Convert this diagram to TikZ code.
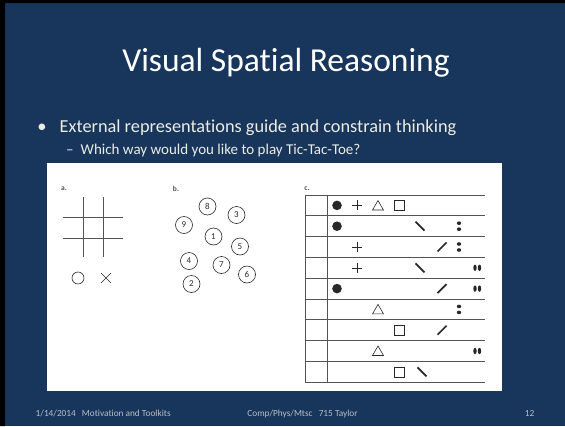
\documentclass[tikz,border=0pt]{standalone}
\usepackage{fontspec}
\setmainfont{Carlito}[Ligatures=NoCommon]
\definecolor{slidebg}{RGB}{24,54,92}
\definecolor{slidetext}{RGB}{236,236,226}
\definecolor{foottext}{RGB}{186,190,198}
\definecolor{scanink}{RGB}{40,40,40}
\begin{document}
\begin{tikzpicture}[x=1pt,y=-1pt,
		grid/.style={draw=scanink!80,line width=.7pt},
		mark ink/.style={draw=scanink,line width=.6pt},
		bar/.style={draw=scanink,line width=1.7pt},
		tag/.style={font=\fontsize{7.5}{8}\selectfont\bfseries,text=scanink!80,inner sep=0pt},
		num/.style={circle,draw=scanink,line width=.6pt,minimum size=17pt,inner sep=0pt,font=\fontsize{9}{10}\selectfont,text=scanink}]
			\useasboundingbox (0,0) rectangle (565,426);
			\fill[slidebg] (0,0) rectangle (565,426);
			\fill[black] (0,0) rectangle (565,3) (0,0) rectangle (5,426);
			% slide texts
			\node[anchor=base,text=white,font=\fontsize{33.5}{40}\selectfont,inner sep=0pt] (title) at (286,71) {Visual Spatial Reasoning};
			\node[anchor=base west,text=slidetext,font=\fontsize{18.3}{22}\selectfont,inner sep=0pt] (point) at (59.5,132) {External representations guide and constrain thinking};
			\node[anchor=base,text=slidetext,font=\fontsize{18.5}{22}\selectfont,inner sep=0pt] (dot) at (42,132) {•};
			\node[anchor=base west,text=slidetext,font=\fontsize{15}{18}\selectfont,inner sep=0pt] (subpoint) at (66,154) {–\hspace{7pt}Which way would you like to play Tic-Tac-Toe?};
			\node[anchor=base west,text=foottext,font=\fontsize{9.3}{11}\selectfont,inner sep=0pt] (date) at (35.5,416) {1/14/2014\hspace{4pt} Motivation and Toolkits};
			\node[anchor=base,text=foottext,font=\fontsize{9.3}{11}\selectfont,inner sep=0pt] (course) at (302.5,416) {Comp/Phys/Mtsc\hspace{4pt} 715 Taylor};
			\node[anchor=base,text=foottext,font=\fontsize{9.3}{11}\selectfont,inner sep=0pt] (page) at (529.5,416) {12};
			% the scanned figure
			\fill[white] (47,163) rectangle (502,391);
			\node[tag] (taga) at (64,189) {a.};
			\node[tag] (tagb) at (176,189) {b.};
			\node[tag] (tagc) at (307,189) {c.};
			% a: the board
			\draw[grid] (83,197)--(83,257) (103,197)--(103,257) (63,217)--(123,217) (63,238)--(123,238);
			\draw[mark ink] (78,278)circle(6) (101,273)--(111,283) (101,283)--(111,273);
			% b: the numbers
			\node[num] (n8) at (207.5,206.5) {8};
			\node[num] (n3) at (236.5,215) {3};
			\node[num] (n9) at (184,225) {9};
			\node[num] (n1) at (213.5,236.5) {1};
			\node[num] (n5) at (240,246.5) {5};
			\node[num] (n4) at (189,261) {4};
			\node[num] (n7) at (221.5,265) {7};
			\node[num] (n6) at (247,274.5) {6};
			\node[num] (n2) at (191.5,284) {2};
			% c: the table
			\draw[grid] (305,195)--(305,382.2) (327,195)--(327,382.2)
				(305,195)--(485,195) (305,215.8)--(485,215.8) (305,236.6)--(485,236.6) (305,257.4)--(485,257.4) (305,278.2)--(485,278.2)
				(305,299)--(485,299) (305,319.8)--(485,319.8) (305,340.6)--(485,340.6) (305,361.4)--(485,361.4) (305,382.2)--(485,382.2);
			\fill[scanink] (337,205.4)circle(4.8) (337,226.2)circle(4.8) (337,288.6)circle(4.8);
			\draw[mark ink] (352,205.4)--(362,205.4) (357,200.4)--(357,210.4)
				(352,247)--(362,247) (357,242)--(357,252) (352,267.8)--(362,267.8) (357,262.8)--(357,272.8);
			\draw[mark ink] (372.5,210)--(383.5,210)--(378,200.5)--cycle (372.5,313.9)--(383.5,313.9)--(378,304.4)--cycle (372.5,355.5)--(383.5,355.5)--(378,346)--cycle;
			\draw[mark ink] (394,200.4) rectangle (404,210.4) (394,325.2) rectangle (404,335.2) (394,366.8) rectangle (404,376.8);
			\draw[bar] (415.5,221.7)--(424.5,230.7) (415.5,263.3)--(424.5,272.3) (417.5,367.3)--(426.5,376.3)
				(437.5,251.5)--(446.5,242.5) (437.5,293.1)--(446.5,284.1) (437.5,334.7)--(446.5,325.7);
			\fill[scanink] (459,223.2)ellipse(2.2 and 1.8) (459,229.2)ellipse(2.2 and 1.8) (459,244)ellipse(2.2 and 1.8) (459,250)ellipse(2.2 and 1.8)
				(459,306.4)ellipse(2.2 and 1.8) (459,312.4)ellipse(2.2 and 1.8);
			\fill[scanink] (475,267.8)ellipse(1.7 and 3.2) (479.5,267.8)ellipse(1.7 and 3.2) (475,288.6)ellipse(1.7 and 3.2) (479.5,288.6)ellipse(1.7 and 3.2)
				(475,351)ellipse(1.7 and 3.2) (479.5,351)ellipse(1.7 and 3.2);
		\end{tikzpicture}
\end{document}
